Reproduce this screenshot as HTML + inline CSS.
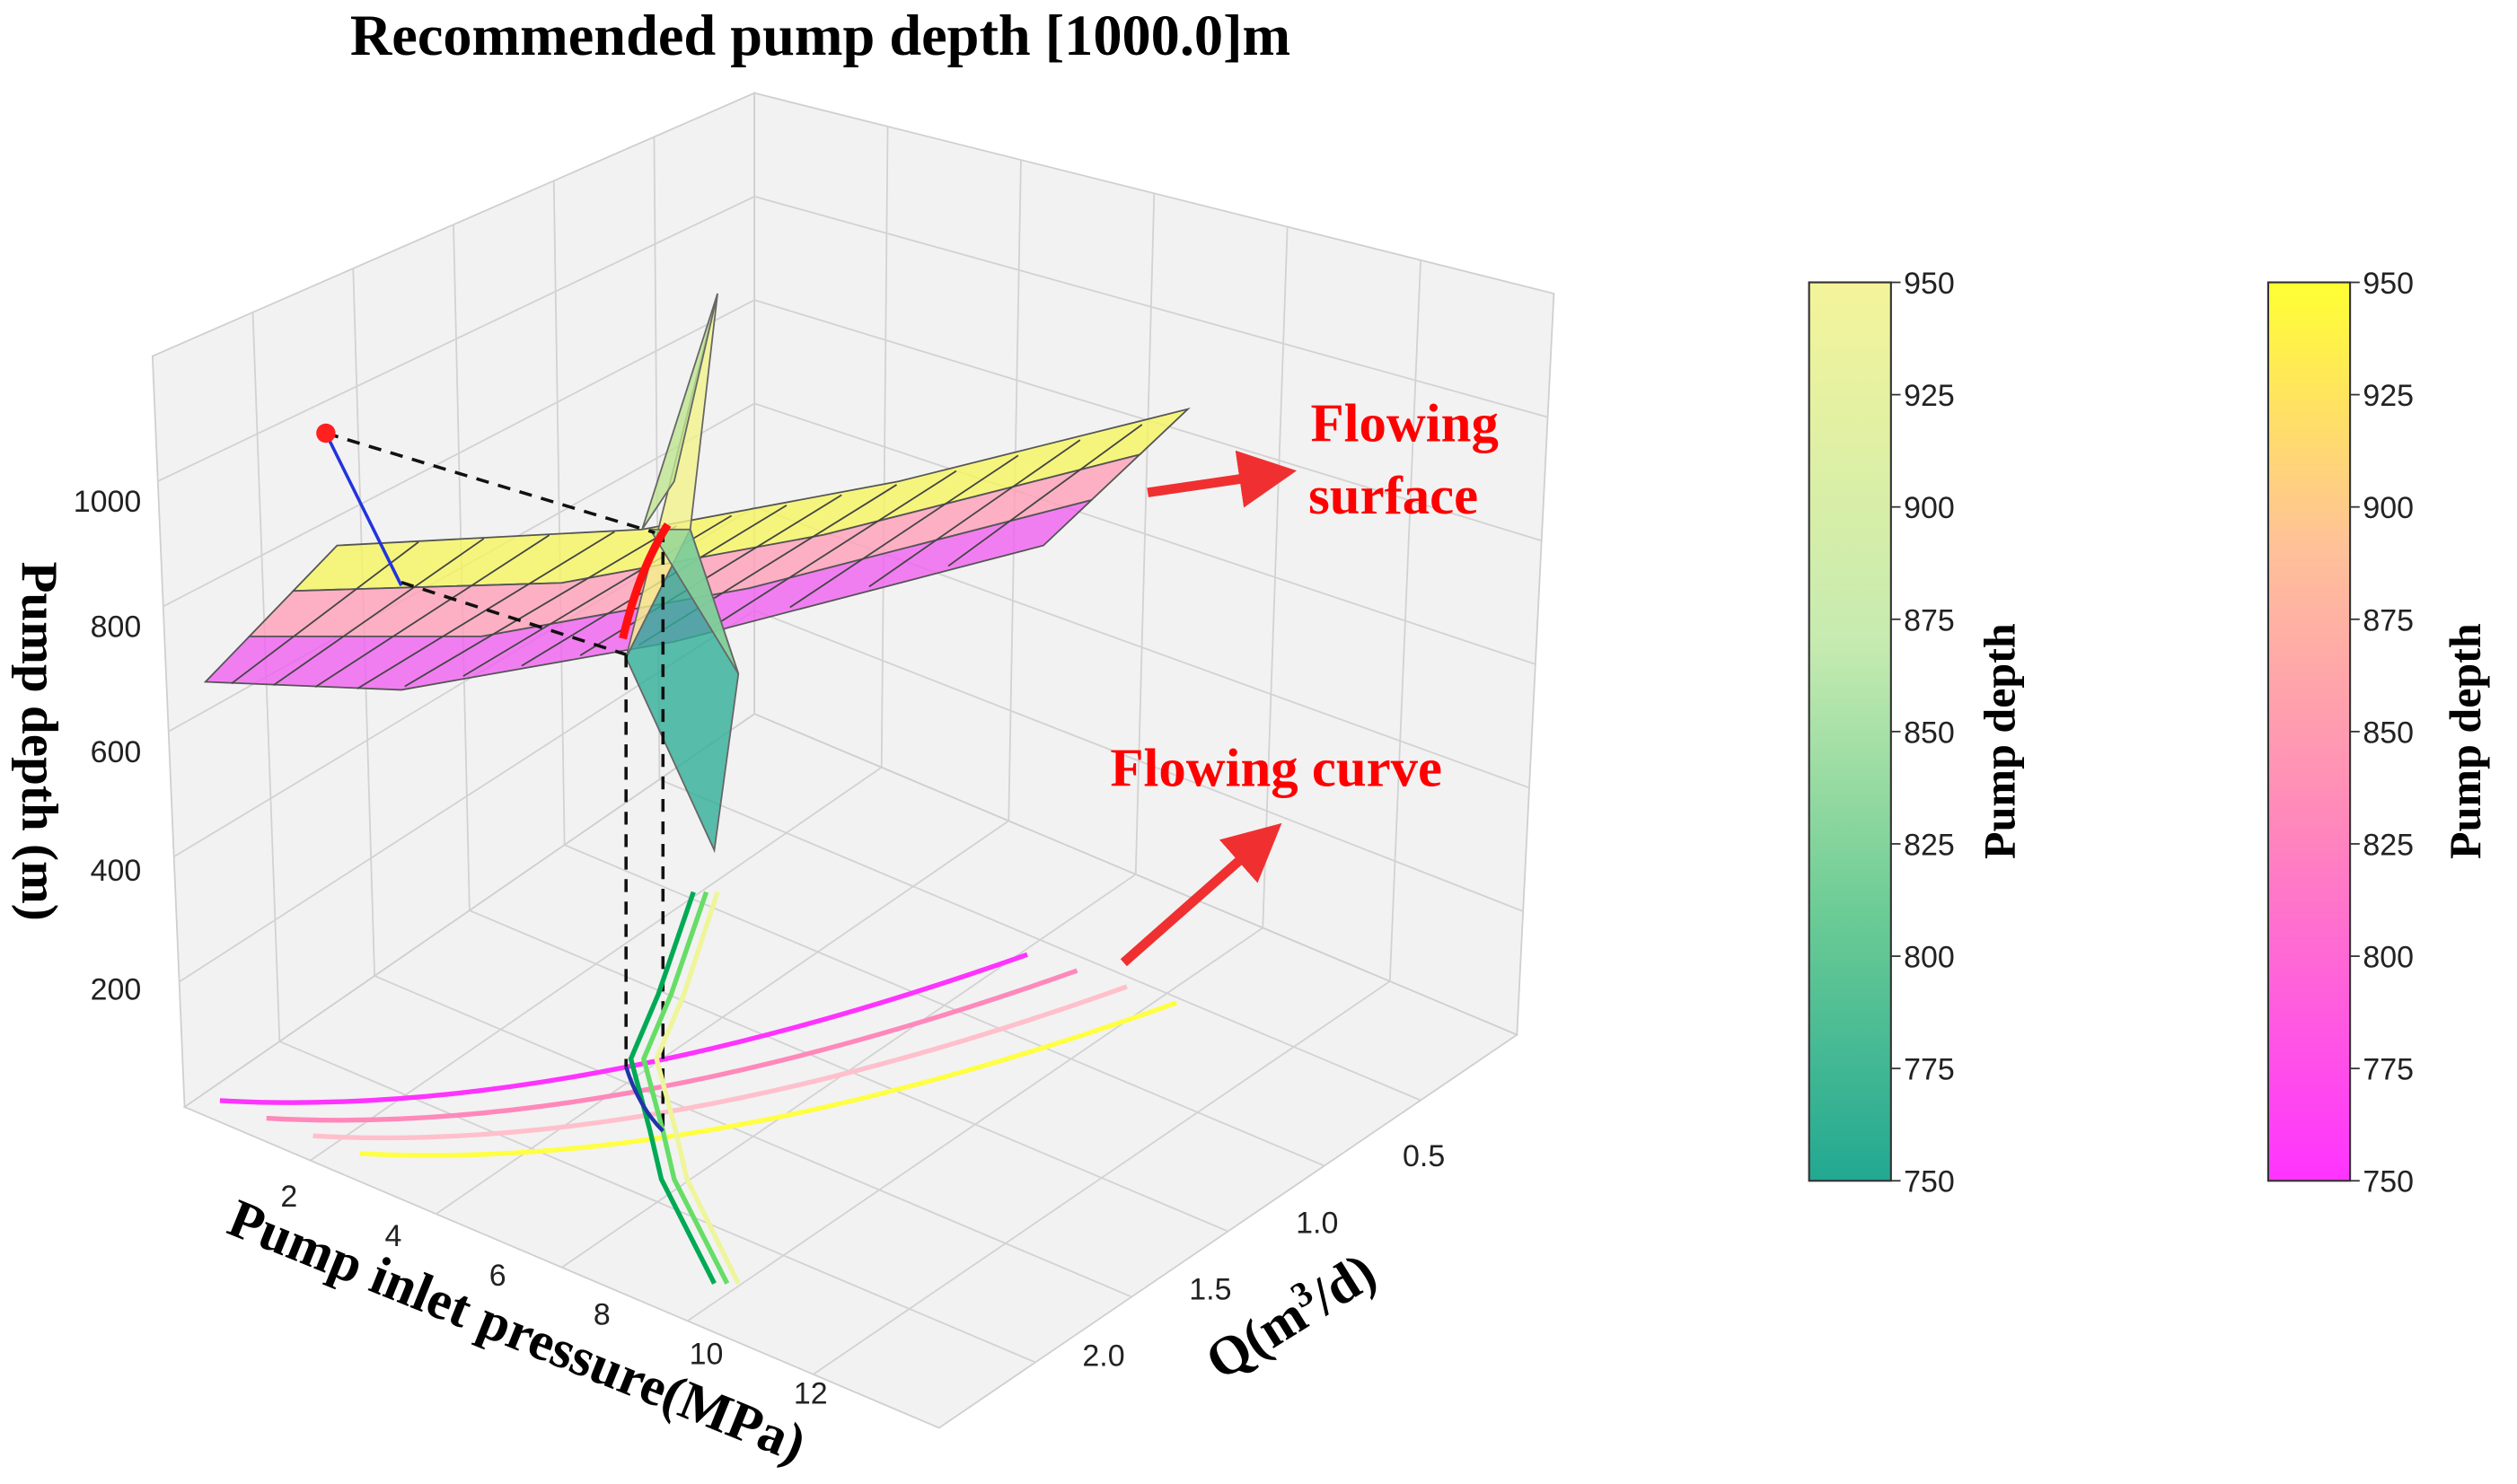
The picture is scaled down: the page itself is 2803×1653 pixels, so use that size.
<!DOCTYPE html>
<html><head><meta charset="utf-8"><style>
html,body{margin:0;padding:0;background:#fff;}
svg{display:block;font-family:"Liberation Serif",serif;}
.tk{font-family:"Liberation Sans",sans-serif;font-size:19px;fill:#222;}
</style></head><body>
<svg id="c" width="2803" height="1653" viewBox="0 0 1568 925" preserveAspectRatio="none" xmlns="http://www.w3.org/2000/svg">
<defs>
<linearGradient id="g1" x1="0" y1="1" x2="0" y2="0"><stop offset="0" stop-color="#22a892"/><stop offset="0.3" stop-color="#6ccc95"/><stop offset="0.6" stop-color="#c6ebb0"/><stop offset="1" stop-color="#f4f49a"/></linearGradient>
<linearGradient id="g2" x1="0" y1="1" x2="0" y2="0"><stop offset="0" stop-color="#ff33ff"/><stop offset="0.4" stop-color="#ff88bb"/><stop offset="0.7" stop-color="#ffc09a"/><stop offset="1" stop-color="#ffff33"/></linearGradient>
<marker id="ah" markerWidth="6" markerHeight="6" refX="3" refY="3" orient="auto"><path d="M0,0 L6,3 L0,6 z" fill="#f03030"/></marker>
</defs>
<text x="511" y="34" text-anchor="middle" font-size="36" font-weight="bold">Recommended pump depth [1000.0]m</text>
<g id="box"></g>
<g id="marks"></g>
</svg>
<script>
const zTicks=[200,400,600,800,1000];
const xTicks=[2,4,6,8,10,12];
const qTicks=['0.5','1.0','1.5','2.0'];
const cbTicks=[950,925,900,875,850,825,800,775,750];
const floorCurveColors=['#ff33ff','#ff88bb','#ffc0cc','#ffff44'];
const floorCurveOffsets=[0,1,2,3];
const NS='http://www.w3.org/2000/svg';
const svg=document.getElementById('c');
const box=document.getElementById('box'), marks=document.getElementById('marks');
function el(t,a,p){const e=document.createElementNS(NS,t);for(const k in a)e.setAttribute(k,a[k]);(p||marks).appendChild(e);return e;}
function bil(q,u,v){const[a,b,c,d]=q;const top=[a[0]+(b[0]-a[0])*u,a[1]+(b[1]-a[1])*u],bot=[d[0]+(c[0]-d[0])*u,d[1]+(c[1]-d[1])*u];return[top[0]+(bot[0]-top[0])*v,top[1]+(bot[1]-top[1])*v];}
const LT=[95,222],BT=[470,58],RT=[968,183],LB=[115,690],BB=[470,445],RB=[945,645],FB=[585,890];
const panes=[[[LT,BT,BB,LB],'left-pane'],[[BT,RT,RB,BB],'right-pane'],[[LB,BB,RB,FB],'floor-pane']];
panes.forEach(([q,n])=>{
 let p=el('polygon',{points:q.map(p=>p.join(',')).join(' '),fill:'#f2f2f2',stroke:'#cfcfcf','stroke-width':1},box);
 
 for(let i=1;i<6;i++){let a=bil(q,i/6,0),b=bil(q,i/6,1);let l=el('line',{x1:a[0],y1:a[1],x2:b[0],y2:b[1],stroke:'#d2d2d2'},box);
 a=bil(q,0,i/6);b=bil(q,1,i/6);l=el('line',{x1:a[0],y1:a[1],x2:b[0],y2:b[1],stroke:'#d2d2d2'},box);}
});
const zy=v=>690-(v/1000)*370+ (v>600?-(v-600)*0.02:0);
zTicks.forEach(v=>{const y=zy(v);const t=el('text',{x:88,y:y+7,'text-anchor':'end',class:'tk'});t.textContent=v;});
const xp=v=>[180+(v-2)*32.5,752+(v-2)*12.3];
xTicks.forEach(v=>{const p=xp(v);const t=el('text',{x:p[0],y:p[1],'text-anchor':'middle',class:'tk'});t.textContent=v;});
const qp=v=>[887-(v-0.5)*133,727+(v-0.5)*83];
qTicks.forEach(s=>{const p=qp(+s);const t=el('text',{x:p[0],y:p[1],'text-anchor':'middle',class:'tk'});t.textContent=s;});
let t=el('text',{x:0,y:0,'font-size':34,'font-weight':'bold','text-anchor':'middle',transform:'translate(318,840) rotate(22)'});t.textContent='Pump inlet pressure(MPa)';
t=el('text',{x:0,y:0,'font-size':34,'font-weight':'bold','text-anchor':'middle',transform:'translate(810,830) rotate(-32)'});t.innerHTML='Q(m<tspan font-size="22" dy="-12">3</tspan><tspan dy="12">/d)</tspan>';
t=el('text',{x:0,y:0,'font-size':32,'font-weight':'bold','text-anchor':'middle',transform:'translate(14,462) rotate(90)'});t.textContent='Pump depth (m)';
floorCurveOffsets.forEach((o,i)=>{const x0=137+o*29,y0=686+o*11,x1=640+o*31,y1=595+o*10;
 const p=el('path',{d:`M${x0},${y0} Q${(x0+x1)/2-40},${y0+12} ${x1},${y1}`,fill:'none',stroke:floorCurveColors[i],'stroke-width':3});});
const topE=[[210,340],[400,330],[560,300],[740,255]], botE=[[128,425],[250,430],[420,400],[650,340]];
const bandC=['#f5f560','#ff9fb8','#f060f0'];
function lerp(a,b,t){return[a[0]+(b[0]-a[0])*t,a[1]+(b[1]-a[1])*t];}
for(let b=0;b<3;b++){const up=topE.map((p,i)=>lerp(p,botE[i],b/3)),dn=topE.map((p,i)=>lerp(p,botE[i],(b+1)/3));
 const poly=el('polygon',{points:[...up,...dn.slice().reverse()].map(p=>p.join(',')).join(' '),fill:bandC[b],'fill-opacity':0.8,stroke:'#555','stroke-width':1});
 }
for(let k=1;k<14;k++){const u=k/14;const seg=Math.min(2,Math.floor(u*3)),f=u*3-seg;
 const a=lerp(topE[seg],topE[seg+1],f),b=lerp(botE[seg],botE[seg+1],f);
 const l=el('line',{x1:b[0]-10,y1:b[1],x2:a[0]+10,y2:a[1],stroke:'#444','stroke-width':1});}
[['#f3f38a','390,410 447,183 430,330'],['#bde58f','400,330 447,183 420,300'],['#2fae96','390,410 445,530 460,420 430,330'],['#8fd59a','405,330 460,420 430,330']].forEach(([c,pts])=>{
 const p=el('polygon',{points:pts,fill:c,'fill-opacity':0.8,stroke:'#666','stroke-width':1});});
[[203,270,408,332],[250,363,390,408],[390,408,390,665],[413,330,413,705]].forEach(a=>{const l=el('line',{x1:a[0],y1:a[1],x2:a[2],y2:a[3],stroke:'#111','stroke-width':2,'stroke-dasharray':'8,6'});});
let l=el('line',{x1:203,y1:270,x2:250,y2:365,stroke:'#2233dd','stroke-width':2});
let c=el('circle',{cx:203,cy:270,r:6,fill:'#ff2020'});
let p=el('path',{d:'M388,398 Q398,355 416,327',fill:'none',stroke:'#ff1010','stroke-width':5});
[['#00aa55','M432,556 L410,620 L393,660 L405,705 L412,735 L445,800'],['#66dd66','M440,556 L418,620 L401,660 L413,705 L420,735 L453,800'],['#eef59a','M447,556 L426,620 L409,660 L421,705 L428,735 L460,800']].forEach(([col,d])=>{const q=el('path',{d,fill:'none',stroke:col,'stroke-width':3});});
p=el('path',{d:'M390,665 Q398,690 413,705',fill:'none',stroke:'#2233aa','stroke-width':2.5});
l=el('line',{x1:715,y1:307,x2:790,y2:296,stroke:'#f03030','stroke-width':6,'marker-end':'url(#ah)'});
l=el('line',{x1:700,y1:600,x2:785,y2:525,stroke:'#f03030','stroke-width':6,'marker-end':'url(#ah)'});
[['Flowing',875,275],['surface',868,320],['Flowing curve',795,490]].forEach(([s,x,y])=>{const q=el('text',{x,y,'text-anchor':'middle','font-size':34,'font-weight':'bold',fill:'#ff0000'});q.textContent=s;});
[[1127,'url(#g1)',1255],[1413,'url(#g2)',1545]].forEach(([x,g,lx],i)=>{
 const r=el('rect',{x,y:176,width:51,height:560,fill:g,stroke:'#333','stroke-width':1.2});
 cbTicks.forEach((v,k)=>{const y=176+k*70;const tl=el('line',{x1:x+51,y1:y,x2:x+57,y2:y,stroke:'#333'});
  const tt=el('text',{x:x+59,y:y+7,class:'tk'});tt.textContent=v;});
 const lt=el('text',{x:0,y:0,'font-size':28,'font-weight':'bold','text-anchor':'middle',transform:`translate(${lx},462) rotate(-90)`});lt.textContent='Pump depth';
});
</script>
</body></html>
